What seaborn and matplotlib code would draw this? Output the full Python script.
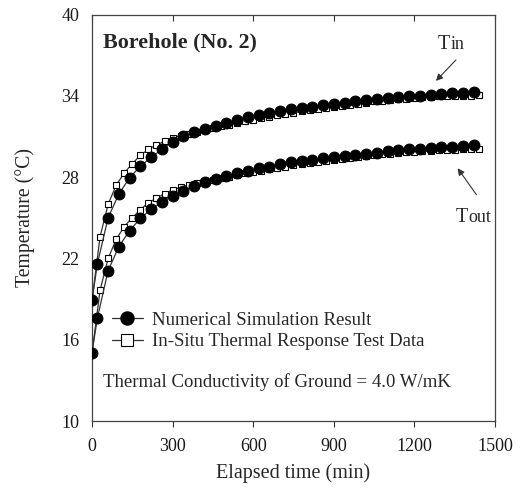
import numpy as np
import pandas as pd
import matplotlib
matplotlib.use("Agg")
import matplotlib.pyplot as plt
import seaborn as sns
from matplotlib.lines import Line2D

# Simulation (circles)
sim_time = [0, 20, 60, 100, 140, 180, 220, 260, 300, 340, 380, 420, 460, 500, 540,
            580, 620, 660, 700, 740, 780, 820, 860, 900, 940, 980, 1020, 1060, 1100,
            1140, 1180, 1220, 1260, 1300, 1340, 1380, 1420]
sim_tin = [18.9, 21.6, 25.0, 26.75, 27.95, 28.8, 29.45, 30.05, 30.6, 31.0, 31.3, 31.54,
           31.8, 32.0, 32.25, 32.42, 32.6, 32.75, 32.87, 33.0, 33.1, 33.2, 33.32, 33.42,
           33.5, 33.58, 33.7, 33.8, 33.85, 33.9, 33.96, 34.0, 34.08, 34.14, 34.18, 34.23, 34.3]
sim_tout = [15.05, 17.6, 21.1, 22.87, 24.05, 24.95, 25.62, 26.16, 26.6, 27.0, 27.34, 27.62,
            27.86, 28.08, 28.28, 28.48, 28.65, 28.78, 28.95, 29.08, 29.19, 29.28, 29.39, 29.48,
            29.55, 29.6, 29.67, 29.78, 29.9, 29.98, 30.05, 30.1, 30.14, 30.2, 30.24, 30.28, 30.38]

# Measured (squares)
meas_time = [0, 30, 60, 90, 120, 150, 180, 210, 240, 270, 300, 330, 360, 390, 420, 450,
             480, 510, 540, 570, 600, 630, 660, 690, 720, 750, 780, 810, 840, 870, 900,
             930, 960, 990, 1020, 1050, 1080, 1110, 1140, 1170, 1200, 1230, 1260, 1290,
             1320, 1350, 1380, 1410, 1440]
meas_tin = [18.9, 23.6, 26.0, 27.4, 28.3, 29.0, 29.6, 30.05, 30.37, 30.65, 30.88, 31.05,
            31.2, 31.35, 31.48, 31.62, 31.75, 31.88, 32.0, 32.12, 32.22, 32.35, 32.45, 32.55,
            32.65, 32.75, 32.85, 32.95, 33.05, 33.12, 33.2, 33.28, 33.35, 33.42, 33.5, 33.58,
            33.65, 33.7, 33.75, 33.8, 33.85, 33.88, 33.92, 33.95, 33.97, 34.0, 34.0, 34.02, 34.03]
meas_tout = [15.0, 19.65, 22.0, 23.4, 24.35, 25.0, 25.6, 26.1, 26.45, 26.78, 27.05, 27.25,
             27.42, 27.55, 27.68, 27.8, 27.92, 28.03, 28.15, 28.27, 28.38, 28.48, 28.58, 28.68,
             28.78, 28.86, 28.95, 29.03, 29.1, 29.18, 29.25, 29.32, 29.4, 29.47, 29.54, 29.6,
             29.67, 29.73, 29.78, 29.83, 29.87, 29.91, 29.94, 29.97, 30.0, 30.02, 30.04, 30.05, 30.06]

x_ticks = [0, 300, 600, 900, 1200, 1500]
y_ticks = [10, 16, 22, 28, 34, 40]

sns.set_theme(style="white")
plt.rcParams['font.family'] = ['Liberation Serif', 'DejaVu Serif']

fig = plt.figure(figsize=(5.24, 4.88), dpi=100)
ax = fig.add_axes([92/524, 1-421/488, (495-92)/524, (421-14.5)/488])

line_col = '#333333'
sq_kw = dict(marker='s', markersize=4.6, markerfacecolor='white', markeredgecolor='black',
             markeredgewidth=0.8, color=line_col, linewidth=0.9)
ci_kw = dict(marker='o', markersize=7.8, markerfacecolor='black', markeredgecolor='black',
             color=line_col, linewidth=0.9)

sns.lineplot(x=meas_time, y=meas_tin, ax=ax, zorder=2, **sq_kw)
sns.lineplot(x=meas_time, y=meas_tout, ax=ax, zorder=2, **sq_kw)
sns.lineplot(x=sim_time, y=sim_tin, ax=ax, zorder=3, **ci_kw)
sns.lineplot(x=sim_time, y=sim_tout, ax=ax, zorder=3, **ci_kw)

ax.set_xlim(0, 1500)
ax.set_ylim(10, 40)
ax.set_xticks(x_ticks)
ax.set_yticks(y_ticks)
ax.tick_params(axis='both', labelsize=13, direction='out', length=4.5, width=0.8,
               color='#333333', labelcolor='#1a1a1a')
ax.tick_params(axis='y', pad=4.5)
ax.tick_params(axis='x', pad=8, top=True, bottom=True)
for t in ax.xaxis.get_major_ticks():
    t.tick2line.set_marker(3)  # inward at top
    t.tick2line.set_markersize(4.5)
for s in ax.spines.values():
    s.set_color('#444444')
    s.set_linewidth(0.9)
ax.set_xlabel('Elapsed time (min)', fontsize=14.5, labelpad=6)
ax.set_ylabel('Temperature (°C)', fontsize=14.2, labelpad=19)

ax.text(0.028, 0.955, 'Borehole (No. 2)', transform=ax.transAxes, fontsize=15.8,
        fontweight='bold', va='top', ha='left')

# Tin / Tout labels
ax.annotate('', xy=(1273, 34.95), xytext=(1362, 36.8),
            arrowprops=dict(arrowstyle='-|>', color='#333333', lw=0.8, mutation_scale=10))
ax.text(1286, 37.45, 'T', fontsize=14.5, ha='left', va='baseline')
ax.text(1334, 37.45, 'in', fontsize=13, ha='left', va='baseline')
ax.annotate('', xy=(1355, 28.82), xytext=(1437, 26.53),
            arrowprops=dict(arrowstyle='-|>', color='#333333', lw=0.8, mutation_scale=10))
ax.text(1354, 24.69, 'T', fontsize=14.5, ha='left', va='baseline')
ax.text(1402, 24.69, 'out', fontsize=13, ha='left', va='baseline')

h1 = Line2D([], [], **{**ci_kw, 'markersize': 9.4})
h2 = Line2D([], [], **{**sq_kw, 'markersize': 8.0})
leg = ax.legend([h1, h2], ['Numerical Simulation Result', 'In-Situ Thermal Response Test Data'],
                loc='upper left', bbox_to_anchor=(0.031, 0.288), frameon=False, fontsize=13.5,
                handlelength=1.65, handletextpad=0.5, labelspacing=0.25, borderaxespad=0)

ax.text(0.028, 0.095, 'Thermal Conductivity of Ground = 4.0 W/mK', transform=ax.transAxes,
        fontsize=13.5, ha='left', va='center')

fig.savefig('out.png', dpi=100)
